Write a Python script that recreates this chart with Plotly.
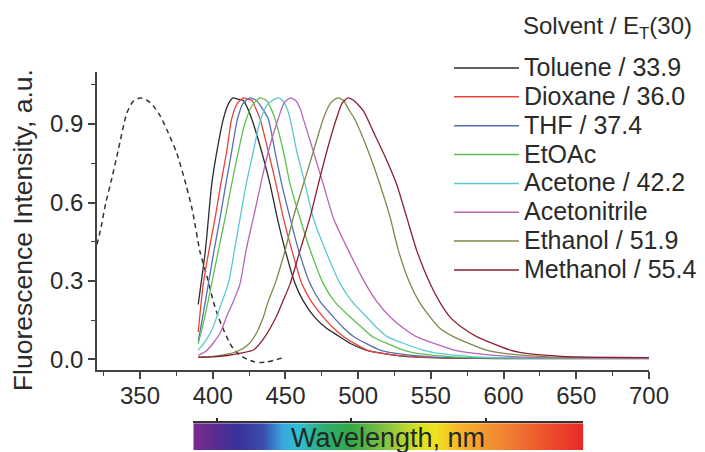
import plotly.graph_objects as go

# emission spectra (nm, normalised intensity)
toluene_nm = [390, 395, 399.3, 403, 407.3, 411, 414, 417, 421, 424, 426.8, 433.6, 439.4, 444.4,
              449.7, 456.6, 462, 470, 478, 485, 495, 505, 515, 530, 550, 580, 620, 700]
toluene_int = [0.21, 0.42, 0.67, 0.80, 0.92, 0.98, 1.0, 0.995, 0.99, 0.96, 0.92, 0.795, 0.67, 0.54,
               0.42, 0.29, 0.226, 0.162, 0.12, 0.095, 0.06, 0.037, 0.025, 0.013, 0.007, 0.004, 0.003, 0.003]

dioxane_nm = [390, 393.5, 397.5, 401.6, 405.5, 409.6, 413, 417, 421, 424, 427, 429.5, 432.5, 438.2,
              443.5, 448.6, 454.3, 461.2, 468, 476, 483, 490, 506, 520, 540, 570, 620, 700]
dioxane_int = [0.105, 0.29, 0.42, 0.54, 0.67, 0.795, 0.92, 0.98, 1.0, 0.995, 0.99, 0.96, 0.92, 0.795,
               0.67, 0.54, 0.42, 0.29, 0.22, 0.162, 0.12, 0.087, 0.036, 0.02, 0.01, 0.006, 0.005, 0.005]

thf_nm = [390, 393, 397, 401, 405, 409, 413, 417, 421, 425.7, 430, 434, 438.2, 442.8, 447.4,
          453.2, 458.9, 466.9, 474, 483, 490, 497, 515, 530, 550, 580, 620, 700]
thf_int = [0.07, 0.16, 0.29, 0.42, 0.54, 0.67, 0.795, 0.92, 0.98, 1.0, 0.99, 0.96, 0.92, 0.795, 0.67,
           0.54, 0.42, 0.29, 0.22, 0.162, 0.12, 0.087, 0.036, 0.02, 0.01, 0.006, 0.005, 0.005]

etoac_nm = [390, 394, 399.3, 404, 408.5, 413, 417.6, 422, 427, 432.5, 437, 440, 442.8, 448.6, 453.2,
            460, 466.9, 476, 484, 494.5, 503, 510, 531, 545, 565, 600, 700]
etoac_int = [0.06, 0.15, 0.29, 0.42, 0.54, 0.67, 0.795, 0.9, 0.97, 1.0, 0.99, 0.96, 0.92, 0.795, 0.67,
             0.54, 0.42, 0.29, 0.22, 0.162, 0.12, 0.087, 0.036, 0.02, 0.01, 0.006, 0.005]

acetone_nm = [390, 395, 400, 405, 410.7, 415, 418.8, 423, 427.9, 432, 437, 441, 445, 448, 451, 453.2,
              457.8, 463.5, 469.2, 477.3, 487.6, 496, 505.9, 513, 520, 544.6, 560, 580, 620, 700]
acetone_int = [0.035, 0.07, 0.12, 0.2, 0.29, 0.42, 0.54, 0.67, 0.795, 0.9, 0.97, 0.99, 1.0, 0.99, 0.96, 0.92,
               0.795, 0.67, 0.54, 0.42, 0.29, 0.22, 0.162, 0.12, 0.087, 0.036, 0.02, 0.01, 0.006, 0.005]

acetonitrile_nm = [390, 395, 400, 405, 410, 414, 418.8, 423, 427.9, 433, 438.2, 445, 449, 453.2, 457, 460,
                   462.3, 469.2, 476, 483, 493, 505, 513, 522, 531, 540, 566, 585, 610, 650, 700]
acetonitrile_int = [0.015, 0.03, 0.06, 0.1, 0.17, 0.22, 0.29, 0.42, 0.54, 0.67, 0.795, 0.92, 0.98, 1.0, 0.99, 0.96,
                    0.92, 0.795, 0.67, 0.54, 0.42, 0.29, 0.22, 0.162, 0.12, 0.087, 0.036, 0.02, 0.01, 0.006, 0.005]

ethanol_nm = [390, 400, 410, 418.8, 425, 430, 434.8, 438, 442.8, 449.7, 455.4, 462.3, 469.2, 476, 481, 486,
              490, 493, 497.5, 507, 515, 522, 527.7, 535.7, 542, 549.5, 556, 565.5, 588, 605, 630, 660, 700]
ethanol_int = [0.01, 0.012, 0.02, 0.036, 0.06, 0.1, 0.162, 0.22, 0.289, 0.416, 0.543, 0.67, 0.795, 0.92, 0.98, 1.0,
               0.99, 0.96, 0.92, 0.795, 0.669, 0.543, 0.416, 0.289, 0.22, 0.162, 0.12, 0.087, 0.036, 0.02, 0.01, 0.008, 0.007]

methanol_nm = [390, 400, 410, 420, 427.9, 435, 443.6, 448, 453.2, 460, 466.9, 472.6, 478.4, 485, 489, 493,
               497, 503.6, 510.5, 517.3, 526.5, 533.4, 540.3, 549.5, 556, 563.2, 572, 581.5, 604.5, 620, 640, 670, 700]
methanol_int = [0.008, 0.01, 0.015, 0.025, 0.036, 0.08, 0.162, 0.22, 0.289, 0.416, 0.543, 0.67, 0.795, 0.92, 0.98, 1.0,
                0.99, 0.95, 0.87, 0.79, 0.669, 0.543, 0.416, 0.289, 0.22, 0.162, 0.12, 0.087, 0.036, 0.02, 0.012, 0.008, 0.007]

# absorption (dashed)
absorption_nm = [320.4, 323, 326.5, 330.5, 335, 340.8, 345, 350, 355, 359, 364, 368.3, 375.2, 382, 386,
                 391.3, 395.9, 400.5, 404, 407.3, 411, 414.2, 419, 424, 428, 432.6, 437, 441.7, 446, 449.8]
absorption_int = [0.44, 0.5, 0.6, 0.69, 0.8, 0.94, 0.985, 1.0, 0.99, 0.97, 0.93, 0.88, 0.79, 0.66, 0.57,
                  0.41, 0.32, 0.22, 0.16, 0.115, 0.07, 0.04, 0.015, 0.0, -0.008, -0.012, -0.01, -0.004, 0.003, 0.01]

labels = ["Toluene / 33.9", "Dioxane / 36.0", "THF / 37.4", "EtOAc", "Acetone / 42.2",
          "Acetonitrile", "Ethanol / 51.9", "Methanol / 55.4"]
colors = ["#2b2b2b", "#e8413c", "#5470b0", "#5cc050", "#5cc8d0", "#b864b8", "#7a8a48", "#8a2030"]
series = [(toluene_nm, toluene_int), (dioxane_nm, dioxane_int), (thf_nm, thf_int),
          (etoac_nm, etoac_int), (acetone_nm, acetone_int), (acetonitrile_nm, acetonitrile_int),
          (ethanol_nm, ethanol_int), (methanol_nm, methanol_int)]

# rainbow strip under the axis
spectrum_nm = [382.6, 397, 417, 434.7, 449, 460.8, 478, 498.5, 527.5, 547.7, 562, 579.6, 608.6, 637.5, 672.3]
spectrum_rgb = ["#7b2a8e", "#5e2c92", "#38339a", "#3a4fae", "#3aa6dc", "#2fc0d6", "#2eae78", "#33a748",
                "#8cc53f", "#d3df26", "#efe31f", "#f7b52b", "#f18b32", "#ee5b2c", "#e8292a"]

FONT = "Arial, Liberation Sans, sans-serif"
TXT = "#2a2a2a"

fig = go.Figure()

fig.add_trace(go.Scatter(x=absorption_nm, y=absorption_int, mode="lines", showlegend=False,
                         line=dict(color="#333333", width=1.5, dash="5px,4px", shape="spline", smoothing=0.6)))
for (xs, ys), name, c in zip(series, labels, colors):
    fig.add_trace(go.Scatter(x=xs, y=ys, mode="lines", name=name, showlegend=False,
                             line=dict(color=c, width=1.3, shape="spline", smoothing=0.6)))

lo, hi = spectrum_nm[0], spectrum_nm[-1]
cscale = [[(v - lo) / (hi - lo), c] for v, c in zip(spectrum_nm, spectrum_rgb)]
fig.add_trace(go.Heatmap(x=spectrum_nm, y=[0, 1], z=[spectrum_nm, spectrum_nm], colorscale=cscale,
                         zsmooth="best", showscale=False, hoverinfo="skip", xaxis="x2", yaxis="y2"))

# the page puts the graph 8px in from the top-left corner
OFF = 8
W, H = 705 - OFF, 452 - OFF
L, R, T, B = 97 - OFF, 56, 72 - OFF, 0
pw, ph = W - L - R, H - T - B


def px(x):
    # screen x -> paper fraction
    return (x - OFF - L) / pw


def py(y):
    # screen y -> paper fraction
    return (H - B - (y - OFF)) / ph


annotations = [
    dict(text="Fluorescence Intensity, a.u.", xref="paper", yref="paper", x=px(23), y=py(231),
         xanchor="center", yanchor="middle", textangle=-90, showarrow=False,
         font=dict(size=26.5, color=TXT, family=FONT)),
    dict(text="Wavelength, nm", xref="paper", yref="paper", x=px(388), y=py(440),
         xanchor="center", yanchor="middle", showarrow=False,
         font=dict(size=27, color="#1e2a27", family=FONT)),
    dict(text="Solvent / E<sub>T</sub>(30)", xref="paper", yref="paper", x=px(521), y=py(27),
         xanchor="left", yanchor="middle", showarrow=False, font=dict(size=24, color=TXT, family=FONT)),
]
shapes = []
for i, (name, c) in enumerate(zip(labels, colors)):
    yy = 67 + 29 * i
    annotations.append(dict(text=name, xref="paper", yref="paper", x=px(522), y=py(yy),
                            xanchor="left", yanchor="middle", showarrow=False,
                            font=dict(size=25, color=TXT, family=FONT)))
    shapes.append(dict(type="line", xref="paper", yref="paper", x0=px(454), x1=px(519),
                       y0=py(yy + 1), y1=py(yy + 1), line=dict(color=c, width=1.5)))

fig.update_layout(
    width=W, height=H,
    margin=dict(l=L, r=R, t=T, b=B, pad=0),
    paper_bgcolor="white", plot_bgcolor="white",
    font=dict(family=FONT, color=TXT, size=24),
    showlegend=False,
    annotations=annotations,
    shapes=shapes,
    xaxis=dict(range=[320.4, 700], domain=[0, 1], anchor="y", dtick=50, tick0=350,
               showline=True, linecolor="#444", linewidth=1.5, ticks="outside", ticklen=7,
               tickwidth=1.5, tickcolor="#444", showgrid=False, zeroline=False, ticklabelstandoff=-4,
               minor=dict(ticks="outside", ticklen=4, dtick=25, tick0=325, tickcolor="#444", tickwidth=1.2),
               tickfont=dict(size=24, color=TXT)),
    yaxis=dict(range=[-0.042, 1.099], domain=[py(372), 1], anchor="x", tickvals=[0, 0.3, 0.6, 0.9],
               tickformat=".1f", showline=True, linecolor="#444", linewidth=1.5, ticks="outside",
               ticklen=7, tickwidth=1.5, tickcolor="#444", showgrid=False, zeroline=False,
               minor=dict(ticks="outside", ticklen=4, tickvals=[0.15, 0.45, 0.75, 1.05],
                          tickcolor="#444", tickwidth=1.2),
               tickfont=dict(size=24, color=TXT)),
    xaxis2=dict(range=[382.6, 672.3], domain=[px(193.3), px(583.3)], anchor="y2", side="top",
                showline=True, linecolor="#333", linewidth=1.5, ticks="outside", ticklen=3,
                tickwidth=2, tickcolor="#222", tickvals=[400, 500, 600], showticklabels=False,
                showgrid=False, zeroline=False),
    yaxis2=dict(range=[0, 1], domain=[0, py(425)], anchor="x2", visible=False),
)

fig.write_html("out.html")
